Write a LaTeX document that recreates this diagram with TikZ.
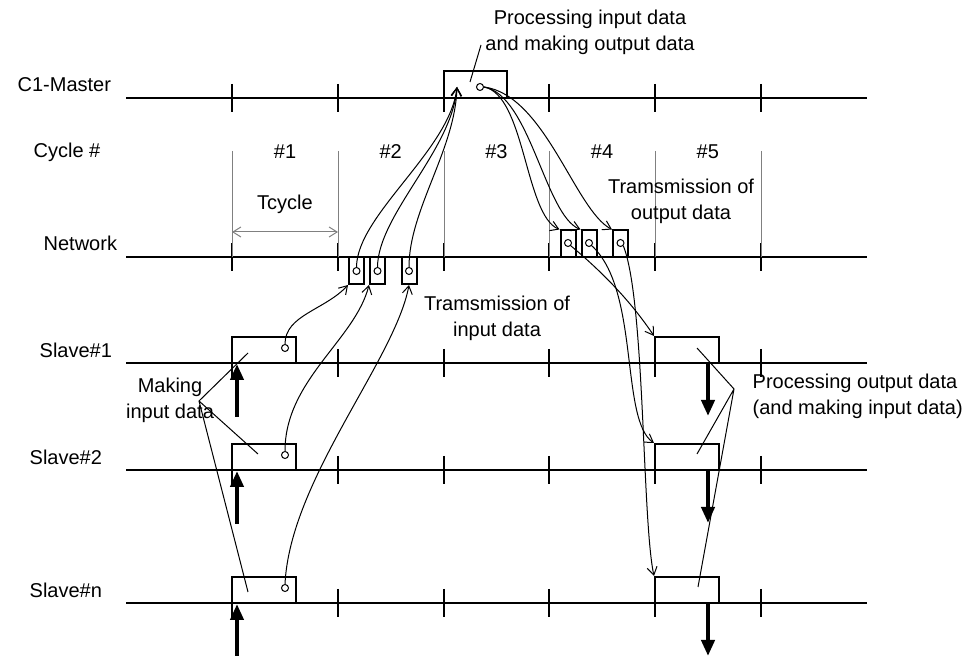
\documentclass[tikz,border=0pt]{standalone}
\usepackage{fontspec}
\setmainfont{Liberation Sans}
\usetikzlibrary{arrows.meta}
\tikzset{cyc/.style={x=0.5pt,y=-0.5pt,font=\fontsize{10}{13}\selectfont,line width=1pt},
  port/.style={circle,draw,line width=0.5pt,minimum size=3.5pt,inner sep=0pt},
  nbox/.style={draw,line width=1pt,minimum width=7.5pt,minimum height=13.5pt,inner sep=0pt},
  sbox/.style={draw,line width=1pt,minimum width=32pt,minimum height=13pt,inner sep=0pt},
  flow/.style={line width=0.5pt,-{Straight Barb[length=4pt,width=5pt]}},
  call/.style={line width=0.5pt},
  act/.style={line width=2pt,-{Triangle[length=8pt,width=6.5pt]}}}

\begin{document}
\begin{tikzpicture}[cyc]
    \useasboundingbox (0,0) rectangle (963,656);
    % time lines with cycle ticks
    \foreach \y in {98,257,363,470,603} {
      \draw (126,\y) -- (867,\y);
      \foreach \x in {232,338,444,549,655,761} \draw (\x,\y-14) -- (\x,\y+14);
    }
    \foreach \x in {232,338,444,549,655,761} \draw[gray,line width=0.5pt] (\x,151) -- (\x,257);
    \foreach \k in {1,...,5} \node (c\k) at ({285+105.7*(\k-1)},152) {\#\k};
    \draw[gray,line width=0.5pt,{Straight Barb[length=4pt,width=5pt]}-{Straight Barb[length=4pt,width=5pt]}] (232,232) -- (338,232);
    \node (tcyc) at (285,204) {Tcycle};
    % row names
    \node[anchor=west] (lmaster) at (10,85) {C1-Master};
    \node[anchor=west] (lcycle) at (26,152) {Cycle \#};
    \node[anchor=west] (lnet) at (36,243) {Network};
    \node[anchor=west] (ls1) at (32,350) {Slave\#1};
    \node[anchor=west] (ls2) at (22,457) {Slave\#2};
    \node[anchor=west] (lsn) at (22,590) {Slave\#n};
    % boxes
    \node[sbox,minimum width=31.5pt,minimum height=13.5pt] (mb) at (475.5,84.5) {};
    \node[port] (pm) at (480,87) {};
    \coordinate (min) at (457,87);
    \foreach \i/\x in {1/356.5,2/377.5,3/409} {
      \node[nbox] (ni\i) at (\x,270.5) {};
      \node[port] (pi\i) at (\x,271) {};
    }
    \foreach \i/\x in {1/568,2/589,3/620.5} {
      \node[nbox] (no\i) at (\x,244) {};
      \node[port] (po\i) at (\x,243) {};
    }
    \foreach \i/\y in {1/350,2/457,n/590} {
      \node[sbox] (si\i) at (264,\y) {};
      \node[port] (ps\i) at (285,\y-2) {};
      \node[sbox] (so\i) at (687,\y) {};
    }
    % slave -> network -> master
    \draw[flow] (ps1.north) .. controls (285,315) and (325,310) .. (ni1.south west);
    \draw[flow] (ps2.north) .. controls (285,380) and (355,340) .. (ni2.south west);
    \draw[flow] (psn.north) .. controls (290,480) and (395,360) .. (ni3.south);
    \draw[flow] (pi1.north) .. controls (357,215) and (450,150) .. (min);
    \draw[flow] (pi2.north) .. controls (378,215) and (452,150) .. (min);
    \draw[flow] (pi3.north) .. controls (409,210) and (455,150) .. (min);
    % master -> network -> slave
    \draw[flow] (pm.east) .. controls (525,95) and (525,215) .. (no1.north west);
    \draw[flow] (pm.east) .. controls (530,95) and (545,215) .. (no2.north west);
    \draw[flow] (pm.east) .. controls (545,95) and (575,210) .. (no3.north west);
    \draw[flow] (po1.south east) .. controls (600,270) and (630,300) .. (so1.north west);
    \draw[flow] (po2.south east) .. controls (640,290) and (620,420) .. (so2.north west);
    \draw[flow] (po3.south east) .. controls (645,300) and (642,520) .. (son.north west);
    % in / out of the slaves
    \foreach \y in {363,470,603} {
      \draw[act] (237,\y+54) -- (237,\y+1);
      \draw[act] (708,\y) -- (708,\y+53);
    }
    % notes
    \node[align=center] (pmtext) at (590,32) {Processing input data\\and making output data};
    \draw[call] (481,45) -- (470,82);
    \node[align=center] (tout) at (681,201) {Tramsmission of\\output data};
    \node[align=center] (tin) at (497,318) {Tramsmission of\\input data};
    \node[align=center] (mktext) at (170,400) {Making\\input data};
    \coordinate (mk) at (199,401);
    \draw[call] (248,353) -- (mk) -- (258,454) (mk) -- (248,592);
    \node[align=left,anchor=west] (potext) at (745,396) {Processing output data\\(and making input data)};
    \coordinate (po) at (734,389);
    \draw[call] (697,348) -- (po) -- (697,454) (po) -- (698,587);
\end{tikzpicture}
\end{document}
